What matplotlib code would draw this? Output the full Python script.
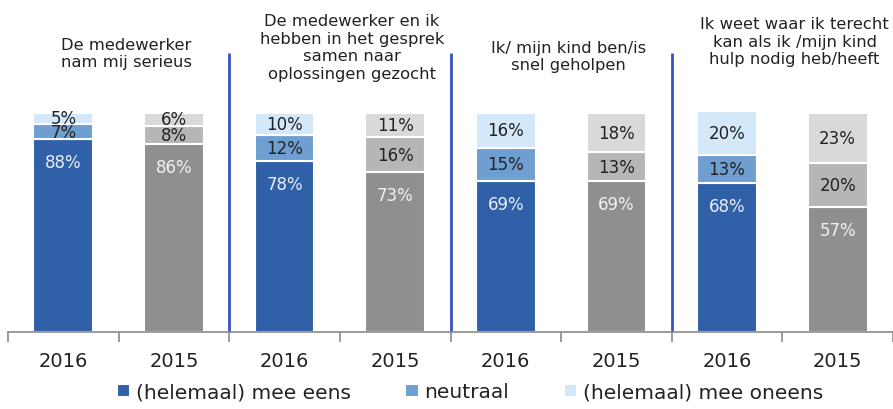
import numpy as np
import matplotlib.pyplot as plt
from matplotlib.transforms import blended_transform_factory

# data
titles = ["De medewerker\nnam mij serieus",
          "De medewerker en ik\nhebben in het gesprek\nsamen naar\noplossingen gezocht",
          "Ik/ mijn kind ben/is\nsnel geholpen",
          "Ik weet waar ik terecht\nkan als ik /mijn kind\nhulp nodig heb/heeft"]
years = ["2016", "2015"] * 4
eens = [88, 86, 78, 73, 69, 69, 68, 57]
neutraal = [7, 8, 12, 16, 15, 13, 13, 20]
oneens = [5, 6, 10, 11, 16, 18, 20, 23]
legend_labels = ["(helemaal) mee eens", "neutraal", "(helemaal) mee oneens"]

blue = ["#3061a8", "#6f9fd0", "#d3e8f8"]
grey = ["#8f8f8f", "#b6b6b6", "#d9d9d9"]

fig = plt.figure(figsize=(8.93, 4.10), dpi=100, facecolor='white')
ax = fig.add_axes((8/893, 77/410, 885/893, 333/410))

x = np.arange(len(years))
w = 0.54
segs = [np.array(eens), np.array(neutraal), np.array(oneens)]
bottom = np.zeros(len(x))
handles = []
for k, vals in enumerate(segs):
    cols = [blue[k] if i % 2 == 0 else grey[k] for i in range(len(x))]
    b = ax.bar(x, vals, w, bottom=bottom, color=cols, edgecolor='white', linewidth=1.5)
    handles.append(b)
    for i in range(len(x)):
        if k == 0:
            ypos = vals[i] - 10.5
            tc = '#e8eef8' if i % 2 == 0 else '#f2f2f2'
        else:
            ypos = bottom[i] + vals[i] / 2
            tc = '#222222'
        ax.text(x[i], ypos, f"{vals[i]}%", ha='center', va='center', fontsize=12, color=tc)
    bottom = bottom + vals

# group separators
ax.vlines([1.5, 3.5, 5.5], 0, 127.5, color='#3652c0', lw=2)

ax.set_xlim(-0.5, -0.5 + 885/112)
ax.set_ylim(0, 152)
for s in ['top', 'right', 'left']:
    ax.spines[s].set_visible(False)
ax.spines['bottom'].set_color('#8a8a8a')
ax.spines['bottom'].set_linewidth(1.2)
ax.set_yticks([])
ax.set_xticks(np.arange(-0.5, 8, 1))
ax.set_xticklabels([])
ax.tick_params(axis='x', which='major', length=7, color='#8a8a8a', width=1.2)
ax.set_xticks(x, minor=True)
ax.set_xticklabels(years, minor=True, fontsize=14, color='#222222')
ax.tick_params(axis='x', which='minor', length=0, pad=14)

# group titles
tr = blended_transform_factory(ax.transData, fig.transFigure)
title_x = [0.57, 2.61, 4.57, 6.61]
title_y = [54, 48, 57, 42]
for t, tx, ty in zip(titles, title_x, title_y):
    ax.text(tx, (410 - ty) / 410, t, transform=tr, ha='center', va='center',
            fontsize=11.8, color='#222222', linespacing=1.22)

fig.legend([h[0] for h in handles], legend_labels, loc='center',
           bbox_to_anchor=(470/893, 17/410), ncol=3, frameon=False, fontsize=14.5,
           handlelength=0.65, handleheight=0.65, handletextpad=0.3, columnspacing=2.7,
           labelcolor='#222222')

fig.savefig("out.png", dpi=100, facecolor='white')
